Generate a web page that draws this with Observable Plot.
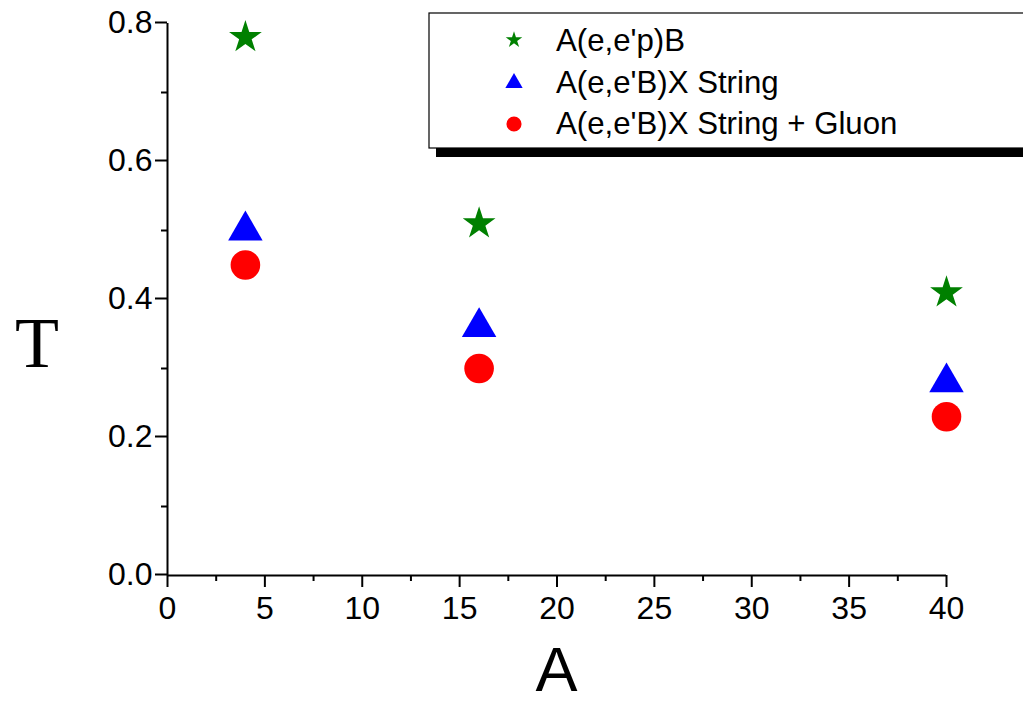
<!DOCTYPE html>
<html>
<head>
<meta charset="utf-8">
<script src="https://cdn.jsdelivr.net/npm/d3@7"></script>
<script src="https://cdn.jsdelivr.net/npm/@observablehq/plot@0.6"></script>
<style>
  html, body { margin: 0; padding: 0; background: white; }
  #wrap { position: relative; width: 1023px; height: 705px; overflow: hidden; }
  #overlay { position: absolute; left: 0; top: 0; pointer-events: none; }
</style>
</head>
<body>
<div id="wrap"></div>
<script>
// ---- data ----
const massNumbers = [4, 16, 40];                 // A
const exclusive   = [0.78, 0.51, 0.41];          // A(e,e'p)B
const stringModel = [0.50, 0.36, 0.28];          // A(e,e'B)X String
const gluonModel  = [0.45, 0.30, 0.23];          // A(e,e'B)X String + Gluon
const seriesNames = ["A(e,e'p)B", "A(e,e'B)X String", "A(e,e'B)X String + Gluon"];
const seriesColors = ["#008000", "#0000ff", "#ff0000"];
const xTicks = [0, 5, 10, 15, 20, 25, 30, 35, 40];
const xMinor = [2.5, 7.5, 12.5, 17.5, 22.5, 27.5, 32.5, 37.5];
const yTicks = [0, 0.2, 0.4, 0.6, 0.8];
const yMinor = [0.1, 0.3, 0.5, 0.7];

const rows = massNumbers.map((a, i) => ({A: a, ex: exclusive[i], st: stringModel[i], gl: gluonModel[i]}));

const font = "Arial, 'Liberation Sans', sans-serif";

const chart = Plot.plot({
  width: 1023,
  height: 705,
  marginLeft: 167,
  marginRight: 77,
  marginTop: 23,
  marginBottom: 130,
  x: {domain: [0, 40]},
  y: {domain: [0, 0.8]},
  style: {fontFamily: font, background: "white", color: "black"},
  marks: [
    Plot.ruleY([0], {strokeWidth: 2}),
    Plot.ruleX([0], {strokeWidth: 2}),
    Plot.axisX({ticks: xMinor, tickSize: 6, strokeWidth: 2, tickFormat: () => "", label: null}),
    Plot.axisX({ticks: xTicks, tickSize: 12, tickPadding: 9, strokeWidth: 2, fontSize: 32, tickFormat: d => String(d), label: null}),
    Plot.axisY({ticks: yMinor, tickSize: 6, strokeWidth: 2, tickFormat: () => "", label: null}),
    Plot.axisY({ticks: yTicks, tickSize: 12, tickPadding: 3, strokeWidth: 2, fontSize: 32, dy: -1, tickFormat: d3.format(".1f"), label: null}),
    Plot.dot(rows, {x: "A", y: "ex", symbol: "star", r: 10.3, fill: seriesColors[0], stroke: "none"}),
    Plot.dot(rows, {x: "A", y: "st", symbol: "triangle", r: 12.8, fill: seriesColors[1], stroke: "none"}),
    Plot.dot(rows, {x: "A", y: "gl", symbol: "circle", r: 14.8, fill: seriesColors[2], stroke: "none"})
  ]
});

const wrap = document.getElementById("wrap");
wrap.appendChild(chart);

// ---- overlay: axis titles and legend ----
const ov = d3.select(wrap).append("svg")
  .attr("id", "overlay")
  .attr("width", 1023).attr("height", 705);

ov.append("text")
  .attr("x", 556.5).attr("y", 691)
  .attr("text-anchor", "middle")
  .attr("font-family", font).attr("font-size", 63)
  .text("A");

ov.append("text")
  .attr("x", 37).attr("y", 367)
  .attr("text-anchor", "middle")
  .attr("font-family", "'Liberation Serif', 'Times New Roman', serif").attr("font-size", 72)
  .text("T");

// legend
const lg = ov.append("g");
lg.append("rect").attr("x", 436).attr("y", 20).attr("width", 700).attr("height", 137).attr("fill", "black");
lg.append("rect").attr("x", 429).attr("y", 13).attr("width", 700).attr("height", 135)
  .attr("fill", "white").attr("stroke", "black").attr("stroke-width", 1.2);

const legendSymbols = [
  {type: d3.symbolStar, size: 85, cy: 40},
  {type: d3.symbolTriangle, size: 130, cy: 83},
  {type: d3.symbolCircle, size: 180, cy: 124}
];
const baselines = [51, 93, 134];
legendSymbols.forEach((s, i) => {
  lg.append("path")
    .attr("d", d3.symbol().type(s.type).size(s.size)())
    .attr("transform", `translate(514,${s.cy})`)
    .attr("fill", seriesColors[i]);
  lg.append("text")
    .attr("x", 556).attr("y", baselines[i])
    .attr("font-family", font).attr("font-size", 31.2)
    .text(seriesNames[i]);
});
</script>
</body>
</html>
